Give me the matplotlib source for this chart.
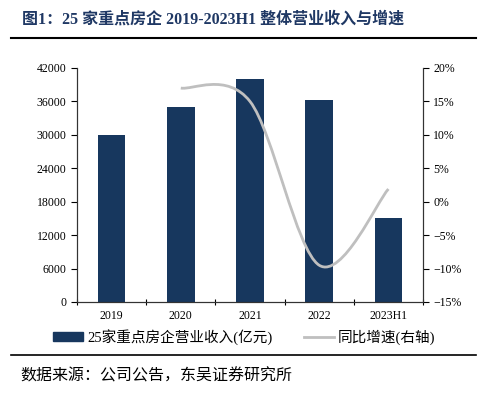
import matplotlib.pyplot as plt
from matplotlib.path import Path
from matplotlib.patches import PathPatch, Patch
from matplotlib.lines import Line2D
from matplotlib.ticker import FuncFormatter
import numpy as np

plt.rcParams['font.family'] = ['Liberation Serif', 'Noto Sans CJK SC']
plt.rcParams['axes.unicode_minus'] = False

# 数据
categories = ['2019', '2020', '2021', '2022', '2023H1']
revenue = [29900, 35000, 40000, 36200, 15000]        # 亿元
growth_x = [1, 2, 3, 4]
growth = [17.0, 15.0, -9.5, 1.9]                     # %

bar_color = '#17375E'
line_color = '#BFBFBF'

fig = plt.figure(figsize=(4.78, 3.96), dpi=100)
W, H = 478, 396
ax = fig.add_axes([77 / W, 1 - 302 / H, 346 / W, 234 / H])
ax2 = ax.twinx()

x = np.arange(len(categories))
ax.bar(x, revenue, width=0.4, color=bar_color, zorder=2)
ax.set_xlim(-0.5, len(categories) - 0.5)
ax.set_ylim(0, 42000)
ax.set_yticks(np.arange(0, 42001, 6000))
ax.set_xticks(x)
ax.set_xticklabels(categories, fontsize=8.5)
ax.set_xticks(np.arange(-0.5, len(categories), 1), minor=True)
ax.tick_params(axis='x', which='major', length=0, pad=6)
ax.tick_params(axis='x', which='minor', length=5, direction='inout', width=0.8)
ax.tick_params(axis='y', labelsize=8.5, length=4, width=0.8, direction='out')

# 平滑折线 (Catmull-Rom -> Bezier)
pts = list(zip(growth_x, growth))
verts = [pts[0]]
codes = [Path.MOVETO]
for i in range(len(pts) - 1):
    p0 = pts[i - 1] if i > 0 else pts[i]
    p1 = pts[i]
    p2 = pts[i + 1]
    p3 = pts[i + 2] if i + 2 < len(pts) else pts[i + 1]
    c1 = (p1[0] + (p2[0] - p0[0]) / 6, p1[1] + (p2[1] - p0[1]) / 6)
    c2 = (p2[0] - (p3[0] - p1[0]) / 6, p2[1] - (p3[1] - p1[1]) / 6)
    verts += [c1, c2, p2]
    codes += [Path.CURVE4] * 3
ax2.add_patch(PathPatch(Path(verts, codes), fill=False, edgecolor=line_color,
                        lw=2, zorder=3))
ax2.set_ylim(-15, 20)
ax2.set_yticks(np.arange(-15, 21, 5))
ax2.yaxis.set_major_formatter(FuncFormatter(lambda v, p: f'{v:.0f}%'.replace('-', '−')))
ax2.tick_params(axis='y', labelsize=8.5, length=4, width=0.8, direction='out')

for a in (ax, ax2):
    a.spines['top'].set_visible(False)
    for s in ('left', 'right', 'bottom'):
        a.spines[s].set_linewidth(0.8)
        a.spines[s].set_color('#333333')

# 图例
handles = [Patch(color=bar_color), Line2D([], [], color=line_color, lw=2)]
labels = ['25家重点房企营业收入(亿元)', '同比增速(右轴)']
fig.legend(handles, labels, loc='center left', bbox_to_anchor=(52 / W, 1 - 337 / H),
           ncol=2, frameon=False, fontsize=10.5, handlelength=2.0,
           handleheight=0.55, columnspacing=2.2, handletextpad=0.3,
           borderpad=0.1, borderaxespad=0)

# 标题与来源
fig.text(22 / W, 1 - 20 / H, '图1：25 家重点房企 2019-2023H1 整体营业收入与增速',
         fontsize=11.5, fontweight='bold', color='#1F3864', va='center', ha='left')
fig.add_artist(Line2D([11 / W, 476 / W], [1 - 38 / H, 1 - 38 / H], color='black', lw=1.5))
fig.add_artist(Line2D([11 / W, 476 / W], [1 - 355 / H, 1 - 355 / H], color='black', lw=1.2))
fig.text(20 / W, 1 - 376 / H, '数据来源：公司公告，东吴证券研究所',
         fontsize=11.5, va='center', ha='left')

fig.savefig('out.png', dpi=100)
